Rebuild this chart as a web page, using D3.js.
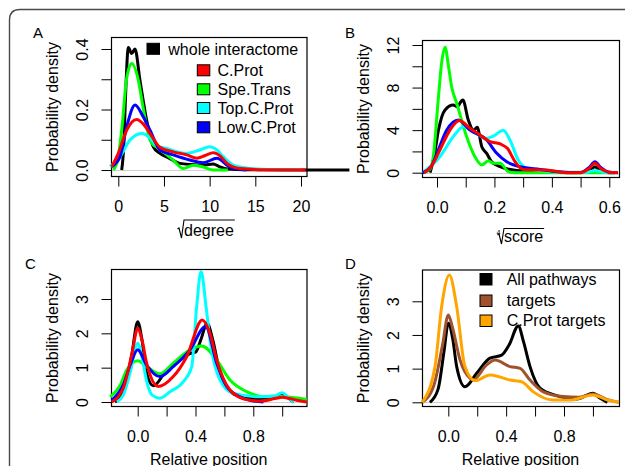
<!DOCTYPE html>
<html><head><meta charset="utf-8">
<script src="https://cdn.jsdelivr.net/npm/d3@7"></script>
<style>
html,body{margin:0;padding:0;background:#fff;}
svg{display:block;font-family:"Liberation Sans",Arial,Helvetica,sans-serif;}
</style></head>
<body>
<svg id="c" width="625" height="466"></svg>
<script>
// ---------- DATA ----------
// Panel A: sqrt(degree) densities
const aBlack = [[0.37,0],[0.6,0.08],[0.8,0.25],[1.1,0.405],[1.46,0.385],[1.83,0.40],[2.37,0.297],[3.1,0.165],[3.83,0.077],[4.56,0.055],[5.5,0.04],[6.75,0.022],[8,0.018],[9.3,0.016],[10.4,0.02],[11,0.012],[12,0.003],[14,0.001],[20,0],[25.3,0]];
const aGreen = [[-0.55,0],[-0.1,0.03],[0.4,0.14],[0.9,0.3],[1.46,0.352],[2.19,0.297],[2.7,0.209],[3.47,0.099],[3.83,0.083],[4.3,0.075],[4.9,0.06],[6.0,0.033],[7.1,0.005],[8.2,0.016],[9.3,0.01],[10.4,0],[12,0]];
const aCyan  = [[-0.9,0.011],[0.2,0.044],[1.28,0.099],[2.56,0.121],[3.5,0.105],[4.2,0.08],[5.3,0.071],[6.5,0.06],[7.5,0.055],[8.9,0.066],[10,0.077],[10.8,0.066],[11.5,0.044],[12.6,0.016],[14.4,0.005],[17,0.001],[20,0]];
const aBlue  = [[-0.72,0.011],[0.19,0.044],[0.92,0.143],[1.83,0.215],[2.73,0.176],[3.47,0.132],[4.56,0.066],[6.0,0.05],[7.8,0.033],[9.3,0.024],[10.8,0.039],[12.2,0.01],[14,0]];
const aRed   = [[-0.72,0.011],[0,0.055],[0.92,0.132],[2.0,0.167],[2.8,0.15],[3.47,0.121],[4.56,0.075],[6.0,0.06],[7.5,0.05],[8.6,0.039],[9.5,0.048],[10.4,0.057],[11.2,0.045],[11.9,0.022],[13.3,0.005],[16,0.001],[20.5,0]];
// Panel B: 4th root(score) densities
const bBlack = [[-0.024,0],[-0.01,1.5],[0.005,4.0],[0.028,5.9],[0.057,6.36],[0.069,6.2],[0.09,6.83],[0.109,4.95],[0.127,4.0],[0.14,4.26],[0.156,2.44],[0.173,1.82],[0.19,1.03],[0.22,0.56],[0.266,0.25],[0.347,0.1],[0.42,0.02],[0.5,0],[0.53,0.15],[0.55,0.56],[0.57,0.15],[0.6,0],[0.62,0]];
const bGreen = [[-0.048,0],[-0.025,0.3],[-0.013,1.5],[0.005,7.1],[0.016,10.3],[0.028,11.8],[0.04,10],[0.051,8.07],[0.069,6.5],[0.103,3.4],[0.132,1.5],[0.156,0.72],[0.179,1.13],[0.196,0.88],[0.22,0.88],[0.248,0.1],[0.27,0],[0.62,0]];
const bCyan  = [[-0.05,0],[0.01,1.5],[0.057,3.4],[0.092,4.32],[0.127,3.85],[0.173,3.23],[0.196,3.44],[0.231,4.0],[0.254,3.07],[0.283,1.19],[0.313,0.41],[0.36,0.2],[0.45,0.05],[0.52,0.05],[0.55,0.2],[0.58,0.05],[0.62,0]];
const bBlue  = [[-0.05,0],[-0.02,0.6],[0.0,1.82],[0.034,4.0],[0.074,4.95],[0.115,4.0],[0.173,3.07],[0.208,1.82],[0.243,1.03],[0.289,0.56],[0.359,0.31],[0.42,0.1],[0.5,0.02],[0.53,0.5],[0.55,1.03],[0.57,0.5],[0.6,0.05],[0.63,0]];
const bRed   = [[-0.045,0],[-0.02,0.6],[0.01,2.13],[0.045,4.0],[0.078,4.9],[0.115,4.17],[0.15,3.54],[0.185,2.91],[0.22,2.7],[0.245,2.29],[0.272,1.03],[0.3,0.31],[0.382,0.25],[0.45,0],[0.5,0.02],[0.53,0.4],[0.55,0.88],[0.57,0.4],[0.6,0.05],[0.63,0]];
// Panel C: relative position densities
const cBlack = [[-0.157,0],[-0.09,0.4],[-0.04,1.4],[0,2.34],[0.03,1.8],[0.062,0.84],[0.108,0.47],[0.2,0.93],[0.293,1.22],[0.369,1.42],[0.4,1.45],[0.44,1.85],[0.48,2.3],[0.52,1.8],[0.56,1.03],[0.62,0.4],[0.708,0.16],[0.846,0.1],[0.95,0.15],[0.997,0.25],[1.04,0.12],[1.08,0]];
const cGreen = [[-0.19,0.15],[-0.12,0.5],[-0.076,0.93],[0,1.2],[0.062,1.03],[0.154,0.82],[0.246,1.13],[0.362,1.52],[0.443,1.63],[0.547,1.22],[0.639,0.64],[0.754,0.3],[0.893,0.15],[1.0,0.15],[1.17,0.07]];
const cCyan  = [[-0.145,0],[-0.1,0.2],[-0.05,0.9],[0,1.71],[0.03,1.3],[0.062,0.6],[0.1,0.2],[0.154,0.11],[0.224,0.3],[0.316,0.59],[0.374,1.03],[0.408,2.78],[0.438,3.8],[0.473,2.78],[0.5,1.81],[0.57,0.64],[0.662,0.25],[0.85,0.15],[0.95,0.18],[1.0,0.27],[1.05,0.1],[1.08,0]];
const cBlue  = [[-0.18,0.05],[-0.1,0.5],[-0.05,1.1],[0,1.52],[0.062,1.07],[0.154,0.74],[0.246,1.03],[0.362,1.52],[0.47,2.2],[0.547,1.13],[0.616,0.45],[0.708,0.15],[0.8,0.03],[0.87,0]];
const cRed   = [[-0.18,0],[-0.1,0.4],[-0.04,1.4],[0,2.15],[0.03,1.8],[0.062,1.13],[0.143,0.45],[0.246,0.74],[0.339,1.32],[0.447,2.39],[0.5,2.0],[0.547,1.22],[0.639,0.35],[0.754,0.07],[0.85,0.03],[0.95,0.1],[1.0,0.14],[1.1,0.05],[1.17,0]];
// Panel D: relative position densities
const dBlack  = [[-0.127,0],[-0.07,0.4],[-0.03,1.5],[0,2.35],[0.03,1.9],[0.058,1.06],[0.115,0.46],[0.196,0.86],[0.288,1.31],[0.369,1.4],[0.42,1.7],[0.484,2.27],[0.52,1.8],[0.565,1.06],[0.634,0.42],[0.75,0.2],[0.89,0.1],[1.0,0.27],[1.05,0.12],[1.1,0]];
const dBrown  = [[-0.18,0],[-0.1,0.5],[-0.04,1.7],[0,2.59],[0.03,2.2],[0.081,1.26],[0.15,0.71],[0.17,0.66],[0.265,1.11],[0.323,1.26],[0.427,1.06],[0.496,1.01],[0.565,0.66],[0.657,0.31],[0.795,0.17],[0.9,0.15],[1.0,0.25],[1.1,0.08],[1.18,0]];
const dOrange = [[-0.18,0],[-0.092,1.06],[-0.046,2.84],[0.007,3.78],[0.058,2.84],[0.115,1.06],[0.185,0.64],[0.288,0.81],[0.35,0.76],[0.427,0.66],[0.507,0.61],[0.588,0.31],[0.72,0.07],[0.85,0.07],[1.0,0.22],[1.1,0.07],[1.18,0]];

// Ticks and labels
const aXTicks = [0,5,10,15,20];          const aXLabels = ["0","5","10","15","20"];
const aYTicks = [0,0.1,0.2,0.3,0.4];     const aYLabels = ["0.0","","0.2","","0.4"];
const bXTicks = [0,0.1,0.2,0.3,0.4,0.5,0.6]; const bXLabels = ["0.0","","0.2","","0.4","","0.6"];
const bYTicks = [0,2,4,6,8,10,12];       const bYLabels = ["0","","4","","8","","12"];
const posXTicks = [0,0.2,0.4,0.6,0.8,1.0]; const posXLabels = ["0.0","","0.4","","0.8",""];
const posYTicks = [0,1,2,3];             const posYLabels = ["0","1","2","3"];

const legendA = ["whole interactome","C.Prot","Spe.Trans","Top.C.Prot","Low.C.Prot"];
const legendD = ["All pathways","targets","C.Prot targets"];
const yTitle = "Probability density";
const posTitle = "Relative position";

// ---------- LAYOUT ----------
const svg = d3.select("#c");
const FS = 16;
const COL = {black:"#000000", red:"#ff0000", green:"#00ff00", cyan:"#00ffff", blue:"#0000ff", brown:"#a0522d", orange:"#ffa500"};

// outer frame
svg.append("path")
  .attr("d","M9.5,470 V20 Q9.5,9.5 20,9.5 H640")
  .attr("fill","none").attr("stroke","#4a4a4a").attr("stroke-width",1.4);

const panels = [
  {letter:"A", lx:33, ly:37.5, box:[111.5,37.5,307,176.5], xd:[0,20], xr:[118.3,301], yd:[0,0.4], yr:[170,49],
   xt:aXTicks, xl:aXLabels, yt:aYTicks, yl:aYLabels,
   series:[[aBlack,COL.black],[aGreen,COL.green],[aCyan,COL.cyan],[aBlue,COL.blue],[aRed,COL.red]]},
  {letter:"B", lx:345, ly:37.5, box:[422.5,40.5,619.5,177.5], xd:[0,0.6], xr:[437,609.3], yd:[0,12], yr:[172.7,45],
   xt:bXTicks, xl:bXLabels, yt:bYTicks, yl:bYLabels,
   series:[[bBlack,COL.black],[bGreen,COL.green],[bCyan,COL.cyan],[bBlue,COL.blue],[bRed,COL.red]]},
  {letter:"C", lx:25, ly:268.5, box:[111.5,269.5,307,406.5], xd:[0,0.8], xr:[137.7,253.3], yd:[0,3], yr:[402,299],
   xt:posXTicks, xl:posXLabels, yt:posYTicks, yl:posYLabels, xTitle:posTitle,
   series:[[cBlack,COL.black],[cGreen,COL.green],[cCyan,COL.cyan],[cBlue,COL.blue],[cRed,COL.red]]},
  {letter:"D", lx:345, ly:268.5, box:[422.5,270,619.5,406.5], xd:[0,0.8], xr:[448.3,564], yd:[0,3], yr:[402.3,301.3],
   xt:posXTicks, xl:posXLabels, yt:posYTicks, yl:posYLabels, xTitle:posTitle,
   series:[[dBlack,COL.black],[dBrown,COL.brown],[dOrange,COL.orange]]}
];

panels.forEach(p => {
  const [l,t,r,b] = p.box;
  const x = d3.scaleLinear().domain(p.xd).range(p.xr);
  const y = d3.scaleLinear().domain(p.yd).range(p.yr);
  const g = svg.append("g");

  // panel letter
  g.append("text").attr("x",p.lx).attr("y",p.ly).attr("font-size",15).text(p.letter);

  // zero reference line
  g.append("line").attr("x1",l).attr("x2",r).attr("y1",Math.round(y(0))+0.5).attr("y2",Math.round(y(0))+0.5)
    .attr("stroke","#cfcfcf").attr("stroke-width",1);

  // x axis
  const xa = g.append("g").attr("transform",`translate(0,${b})`)
    .call(d3.axisBottom(x).tickValues(p.xt).tickSize(10).tickPadding(14)
      .tickFormat((d,i)=>p.xl[i]));
  xa.select(".domain").remove();
  xa.selectAll("text").attr("font-size",FS).attr("font-family",null).attr("fill","#000");
  xa.selectAll("line").attr("stroke","#000");

  // y axis
  const ya = g.append("g").attr("transform",`translate(${l},0)`)
    .call(d3.axisLeft(y).tickValues(p.yt).tickSize(10).tickFormat((d,i)=>p.yl[i]));
  ya.select(".domain").remove();
  ya.selectAll("line").attr("stroke","#000");
  ya.selectAll("text").attr("font-size",FS).attr("font-family",null).attr("fill","#000")
    .attr("x",null).attr("dy",null).attr("text-anchor","middle")
    .attr("transform","translate(-23.4,0) rotate(-90)");

  // y title
  g.append("text").attr("transform",`translate(${l-53.5},${(t+b)/2}) rotate(-90)`)
    .attr("text-anchor","middle").attr("font-size",FS).text(yTitle);

  // box
  g.append("rect").attr("x",l).attr("y",t).attr("width",r-l).attr("height",b-t)
    .attr("fill","none").attr("stroke","#000").attr("stroke-width",1.2);

  // curves
  const line = d3.line().x(d=>x(d[0])).y(d=>y(d[1])).curve(d3.curveMonotoneX);
  p.series.forEach(([data,col]) => {
    g.append("path").attr("d",line(data)).attr("fill","none").attr("stroke",col)
      .attr("stroke-width",3).attr("stroke-linejoin","round").attr("stroke-linecap","butt");
  });

  if (p.xTitle) {
    g.append("text").attr("x",(l+r)/2 - 0.5).attr("y",465).attr("text-anchor","middle")
      .attr("font-size",FS).text(p.xTitle);
  }
  p.x = x; p.y = y;
});

// x titles with radicals (A and B)
function radicalLabel(word, xStart, baseline, overY, index) {
  const txt = svg.append("text").attr("x",xStart).attr("y",baseline).attr("font-size",FS).text(word);
  const w = txt.node().getComputedTextLength();
  svg.append("path")
    .attr("d",`M${xStart-6.5},${baseline-7} L${xStart-5},${baseline-8} L${xStart-2.5},${baseline+2} L${xStart},${overY} H${xStart+w+1}`)
    .attr("fill","none").attr("stroke","#000").attr("stroke-width",1.1).attr("stroke-linejoin","miter");
  if (index) {
    svg.append("text").attr("x",xStart-3.5).attr("y",overY+6).attr("text-anchor","end")
      .attr("font-size",7).text(index);
  }
}
radicalLabel("degree", 184, 236, 220, null);
radicalLabel("score", 504, 242, 228.5, "4");

// legend A
const legA = [
  {lab:legendA[0], col:COL.black, sx:147, tx:168.3, cy:48.8},
  {lab:legendA[1], col:COL.red,   sx:197.3, tx:217.5, cy:70.3},
  {lab:legendA[2], col:COL.green, sx:197.3, tx:217.5, cy:89.3},
  {lab:legendA[3], col:COL.cyan,  sx:197.3, tx:217.5, cy:108},
  {lab:legendA[4], col:COL.blue,  sx:197.3, tx:217.5, cy:127.3}
];
legA.forEach(d => {
  svg.append("rect").attr("x",d.sx).attr("y",d.cy-5.5).attr("width",12.5).attr("height",11)
    .attr("fill",d.col).attr("stroke","#000").attr("stroke-width",1);
  svg.append("text").attr("x",d.tx).attr("y",d.cy+5.7).attr("font-size",FS).text(d.lab);
});
// legend D
const legD = [
  {lab:legendD[0], col:COL.black,  cy:279},
  {lab:legendD[1], col:COL.brown,  cy:300.5},
  {lab:legendD[2], col:COL.orange, cy:320.5}
];
legD.forEach(d => {
  svg.append("rect").attr("x",480).attr("y",d.cy-5.5).attr("width",12).attr("height",11.5)
    .attr("fill",d.col).attr("stroke","#000").attr("stroke-width",1);
  svg.append("text").attr("x",506.7).attr("y",d.cy+5.7).attr("font-size",FS).text(d.lab);
});
</script>
</body></html>
